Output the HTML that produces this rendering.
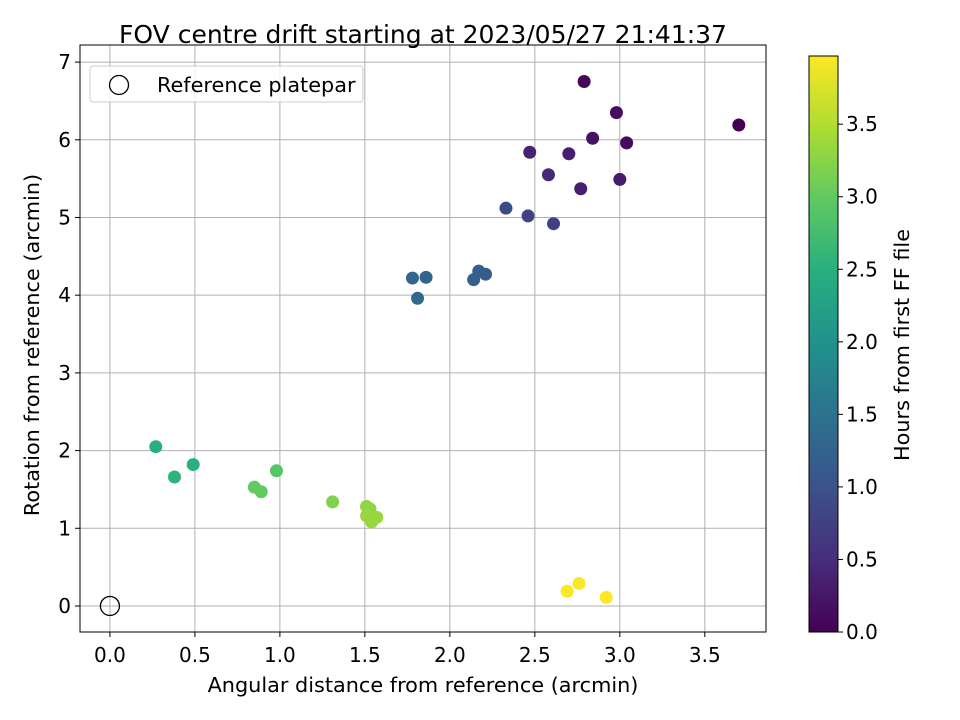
<!DOCTYPE html>
<html><head><meta charset="utf-8"><style>
html,body{margin:0;background:#fff;overflow:hidden;width:960px;height:720px;}
svg text{font-family:"DejaVu Sans","Liberation Sans",sans-serif;fill:#000;}
</style></head><body>
<svg id="chart" width="960" height="720" style="position:absolute;left:0;top:0" xmlns="http://www.w3.org/2000/svg">
<defs><linearGradient id="vir" x1="0" y1="1" x2="0" y2="0">
<stop offset="0" stop-color="#440154"/><stop offset="0.125" stop-color="#472d7b"/><stop offset="0.25" stop-color="#3b528b"/><stop offset="0.375" stop-color="#2c728e"/><stop offset="0.5" stop-color="#21918c"/><stop offset="0.625" stop-color="#28ae80"/><stop offset="0.75" stop-color="#5ec962"/><stop offset="0.875" stop-color="#addc30"/><stop offset="1" stop-color="#fde725"/></linearGradient></defs>
<g id="grid"></g><g id="pts"></g><g id="axes"></g>
<text x="423" y="43" text-anchor="middle" font-size="25">FOV centre drift starting at 2023/05/27 21:41:37</text>
<text x="423" y="692" text-anchor="middle" font-size="20.8">Angular distance from reference (arcmin)</text>
<text transform="translate(39,345) rotate(-90)" text-anchor="middle" font-size="20.8">Rotation from reference (arcmin)</text>
<text transform="translate(909,345) rotate(-90)" text-anchor="middle" font-size="20.8">Hours from first FF file</text>
<g>
<rect x="90" y="66" width="273" height="36" rx="3" fill="#fff" fill-opacity="0.8" stroke="#ccc"/>
<circle cx="119" cy="85" r="9.5" fill="none" stroke="#000" stroke-width="1.3"/>
<text x="157" y="92" font-size="20.8">Reference platepar</text>
</g>
</svg>
<script>
const xs=[2.79,3.70,2.98,2.84,3.04,2.47,2.70,2.58,3.00,2.77,2.33,2.46,2.61,1.78,1.86,1.81,2.17,2.21,2.14,0.27,0.38,0.49,0.85,0.89,0.98,1.31,1.51,1.53,1.51,1.54,1.57,2.69,2.76,2.92];
const ys=[6.75,6.19,6.35,6.02,5.96,5.84,5.82,5.55,5.49,5.37,5.12,5.02,4.92,4.22,4.23,3.96,4.31,4.27,4.20,2.05,1.66,1.82,1.53,1.47,1.74,1.34,1.28,1.25,1.16,1.08,1.14,0.19,0.29,0.11];
const hours=[0.05,0.0,0.15,0.2,0.1,0.4,0.35,0.45,0.3,0.35,0.9,0.8,0.75,1.3,1.25,1.35,1.2,1.15,1.2,2.5,2.55,2.5,3.0,3.0,2.9,3.2,3.3,3.3,3.35,3.35,3.35,3.95,3.95,3.97];
const xTicks=[0,0.5,1,1.5,2,2.5,3,3.5];
const yTicks=[0,1,2,3,4,5,6,7];
const cTicks=[0,0.5,1,1.5,2,2.5,3,3.5];
const L=80,R=766,T=45,B=632,xMin=-0.176,xMax=3.86,yMin=-0.335,yMax=7.22,cMax=3.97;
const X=v=>L+(v-xMin)/(xMax-xMin)*(R-L);
const Y=v=>B-(v-yMin)/(yMax-yMin)*(B-T);
const CY=v=>632-v/cMax*(632-56);
const NS="http://www.w3.org/2000/svg";
function mk(p,t,a){const e=document.createElementNS(NS,t);for(const k in a)e.setAttribute(k,a[k]);p.appendChild(e);return e;}
const vir=[[68,1,84],[71,45,123],[59,82,139],[44,114,142],[33,145,140],[40,174,128],[94,201,98],[173,220,48],[253,231,37]];
function col(h){let t=Math.max(0,Math.min(1,h/cMax))*8;let i=Math.min(7,Math.floor(t)),f=t-i;const a=vir[i],b=vir[i+1];return `rgb(${a.map((v,k)=>Math.round(v+(b[k]-v)*f)).join(',')})`;}
const G=document.getElementById('grid'),P=document.getElementById('pts'),A=document.getElementById('axes');
xTicks.forEach(v=>{const l=mk(G,'line',{x1:X(v),x2:X(v),y1:T,y2:B,stroke:'#b0b0b0','stroke-width':1});


mk(A,'line',{x1:X(v),x2:X(v),y1:B,y2:B+5,stroke:'#000'});
const t=mk(A,'text',{x:X(v),y:B+30,'text-anchor':'middle','font-size':20});t.textContent=v.toFixed(1);

});
yTicks.forEach(v=>{const l=mk(G,'line',{x1:L,x2:R,y1:Y(v),y2:Y(v),stroke:'#b0b0b0','stroke-width':1});


mk(A,'line',{x1:L-5,x2:L,y1:Y(v),y2:Y(v),stroke:'#000'});
const t=mk(A,'text',{x:L-9,y:Y(v)+7,'text-anchor':'end','font-size':20});t.textContent=v;

});
xs.forEach((x,i)=>{const c=mk(P,'circle',{cx:X(x),cy:Y(ys[i]),r:6.5,fill:col(hours[i])});

});
const ref=mk(P,'circle',{cx:X(0),cy:Y(0),r:9.5,fill:'none',stroke:'#000','stroke-width':1.3});


const fr=mk(A,'rect',{x:L,y:T,width:R-L,height:B-T,fill:'none',stroke:'#000','stroke-width':1});


const cb=mk(A,'rect',{x:809,y:56,width:29,height:576,fill:'url(#vir)',stroke:'#000'});


cTicks.forEach(v=>{mk(A,'line',{x1:838,x2:843,y1:CY(v),y2:CY(v),stroke:'#000'});
const t=mk(A,'text',{x:846,y:CY(v)+7,'font-size':20});t.textContent=v.toFixed(1);

});
</script>
</body></html>
